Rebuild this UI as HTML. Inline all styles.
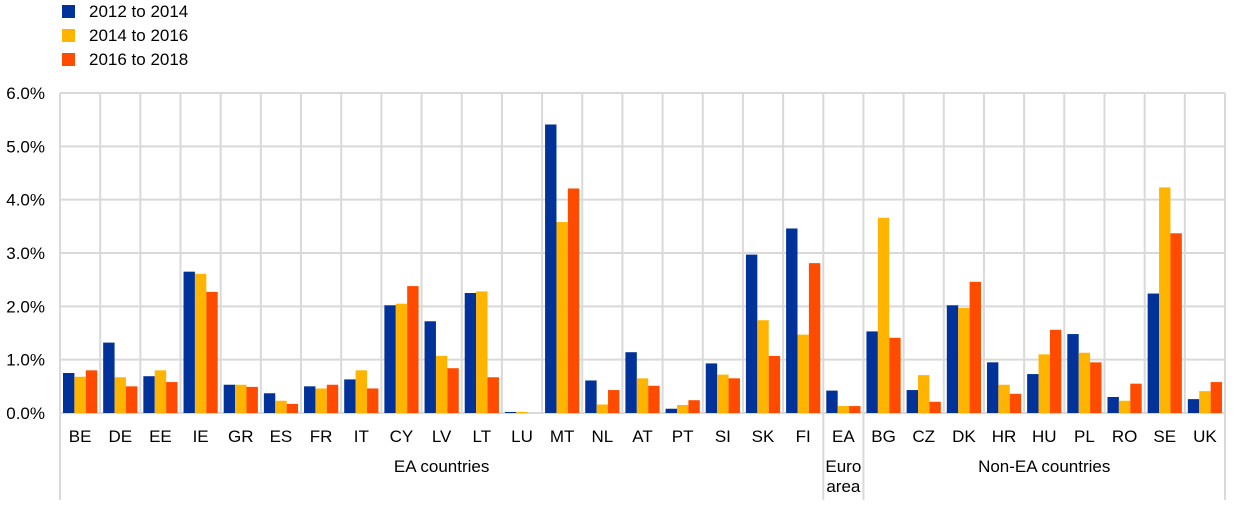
<!DOCTYPE html>
<html><head><meta charset="utf-8"><style>
body{margin:0;background:#fff;}
svg text{font-family:"Liberation Sans",Arial,sans-serif;fill:#000;}
</style></head><body>
<svg id="c" width="1240" height="503" xmlns="http://www.w3.org/2000/svg"></svg>
<script>
const d=[["BE",.75,.68,.80],["DE",1.32,.67,.50],["EE",.69,.80,.58],["IE",2.65,2.61,2.27],["GR",.53,.53,.49],["ES",.37,.23,.17],["FR",.50,.46,.53],["IT",.63,.80,.46],["CY",2.02,2.05,2.38],["LV",1.72,1.07,.84],["LT",2.25,2.28,.67],["LU",.02,.02,0],["MT",5.41,3.58,4.21],["NL",.61,.16,.43],["AT",1.14,.65,.51],["PT",.08,.15,.24],["SI",.93,.72,.65],["SK",2.97,1.74,1.07],["FI",3.46,1.47,2.81],["EA",.42,.13,.13],["BG",1.53,3.66,1.41],["CZ",.43,.71,.21],["DK",2.02,1.97,2.46],["HR",.95,.53,.36],["HU",.73,1.10,1.56],["PL",1.48,1.13,.95],["RO",.30,.23,.55],["SE",2.24,4.23,3.37],["UK",.26,.41,.58]];
const col=["#003299","#FFB400","#FF4B00"];
const x0=60,x1=1225,y0=413,ppu=53.33,cw=(x1-x0)/29;
let s="";
for(let i=0;i<=6;i++){const y=y0-i*ppu;s+=`<line x1="${x0}" x2="${x1}" y1="${y}" y2="${y}" stroke="#d9d9d9" stroke-width="2"/>`;s+=`<text x="45" y="${y+6}" font-size="17" text-anchor="end">${i}.0%</text>`;}
for(let i=1;i<29;i++){const x=x0+i*cw;const g=(i==19||i==20);s+=`<line x1="${x}" x2="${x}" y1="93" y2="${g?500:413}" stroke="#d9d9d9" stroke-width="2"/>`;}
s+=`<line x1="${x0}" x2="${x0}" y1="93" y2="500" stroke="#d9d9d9" stroke-width="2"/><line x1="${x1}" x2="${x1}" y1="93" y2="500" stroke="#d9d9d9" stroke-width="2"/>`;
d.forEach((r,i)=>{const cx=x0+i*cw;for(let k=0;k<3;k++){const h=r[k+1]*ppu;s+=`<rect x="${cx+3+k*11.4}" y="${y0-h}" width="11.4" height="${h}" fill="${col[k]}"/>`;}
s+=`<text x="${cx+cw/2}" y="442" font-size="17" text-anchor="middle">${r[0]}</text>`;});
s+=`<text x="${x0+9.5*cw}" y="472" font-size="17" text-anchor="middle">EA countries</text>`;
s+=`<text x="${x0+19.5*cw}" y="472" font-size="17" text-anchor="middle">Euro</text><text x="${x0+19.5*cw}" y="492" font-size="17" text-anchor="middle">area</text>`;
s+=`<text x="${x0+24.5*cw}" y="472" font-size="17" text-anchor="middle">Non-EA countries</text>`;
["2012 to 2014","2014 to 2016","2016 to 2018"].forEach((t,k)=>{const y=5+k*24;s+=`<rect x="62" y="${y}" width="13" height="13" fill="${col[k]}"/><text x="89" y="${y+12}" font-size="17">${t}</text>`;});
document.getElementById("c").innerHTML=s;
</script>
</body></html>
